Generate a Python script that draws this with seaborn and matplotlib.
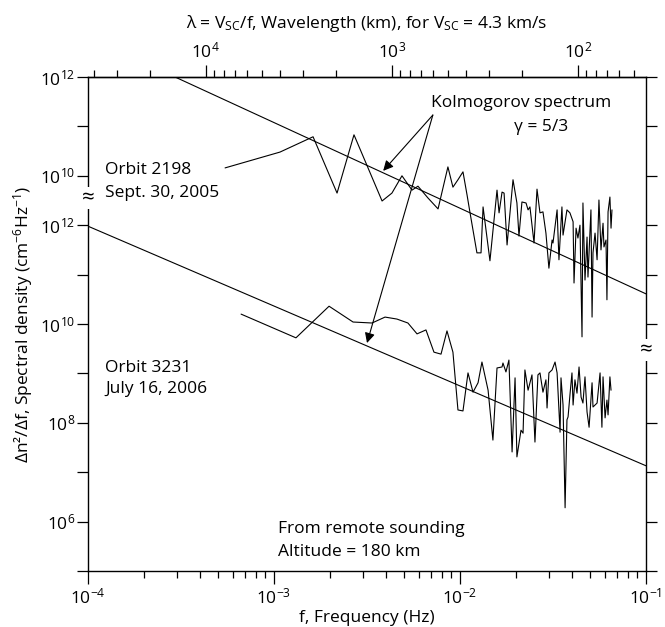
import numpy as np
import seaborn as sns
import matplotlib.pyplot as plt
from matplotlib.ticker import NullFormatter, NullLocator

# spectra, stored as log10 values
# Orbit 2198, Sept. 30, 2005 (upper panel)
logf_2198 = [-3.263, -2.968, -2.790, -2.661, -2.570, -2.419, -2.366, -2.312, -2.258, -2.226,
             -2.172, -2.118, -2.065, -2.038, -2.011, -1.984, -1.962, -1.946, -1.909, -1.887,
             -1.876, -1.839, -1.801, -1.790, -1.774, -1.763, -1.747, -1.715, -1.694, -1.683,
             -1.667, -1.645, -1.634, -1.624, -1.602, -1.586, -1.570, -1.554, -1.538, -1.522,
             -1.505, -1.500, -1.478, -1.468, -1.452, -1.446, -1.425, -1.409, -1.392, -1.387,
             -1.376, -1.366, -1.355, -1.344, -1.339, -1.328, -1.317, -1.312, -1.296, -1.290,
             -1.285, -1.274, -1.263, -1.253, -1.242, -1.231, -1.226, -1.215, -1.210, -1.204,
             -1.194, -1.188, -1.183]
logpsd_2198 = [10.16, 10.48, 10.79, 9.65, 10.83, 9.49, 9.65, 10.00, 9.71, 9.79,
               9.55, 9.33, 10.18, 9.77, 9.92, 10.08, 9.61, 9.25, 8.44, 8.44,
               9.37, 8.28, 9.71, 9.25, 9.67, 9.65, 8.60, 9.92, 9.45, 8.78,
               9.47, 9.45, 9.31, 9.37, 8.64, 9.73, 9.25, 9.27, 8.84, 8.13,
               8.70, 8.64, 9.31, 8.30, 9.37, 8.80, 9.31, 9.25, 9.07, 7.83,
               8.94, 8.74, 9.00, 6.74, 9.45, 7.89, 8.76, 7.95, 9.31, 7.14,
               8.44, 8.84, 8.30, 9.51, 8.50, 9.04, 8.56, 8.70, 7.49, 9.27,
               9.57, 8.94, 9.31]

# Orbit 3231, July 16, 2006 (lower panel)
logf_3231 = [-3.177, -2.882, -2.704, -2.575, -2.473, -2.403, -2.339, -2.280, -2.231, -2.183,
             -2.140, -2.102, -2.070, -2.038, -2.011, -1.984, -1.957, -1.930, -1.903, -1.882,
             -1.849, -1.823, -1.801, -1.774, -1.769, -1.753, -1.737, -1.720, -1.704, -1.694,
             -1.672, -1.661, -1.651, -1.634, -1.613, -1.597, -1.581, -1.570, -1.554, -1.538,
             -1.532, -1.522, -1.505, -1.489, -1.478, -1.462, -1.457, -1.446, -1.435, -1.425,
             -1.419, -1.409, -1.398, -1.392, -1.382, -1.371, -1.360, -1.349, -1.339, -1.328,
             -1.317, -1.306, -1.290, -1.285, -1.263, -1.247, -1.237, -1.231, -1.220, -1.210,
             -1.204, -1.194, -1.188]
logpsd_3231 = [10.20, 9.72, 10.36, 10.04, 10.02, 10.14, 10.10, 10.02, 9.80, 9.88,
               9.43, 9.39, 9.86, 9.43, 8.26, 8.24, 9.01, 8.62, 8.81, 9.23,
               8.66, 7.65, 9.11, 9.13, 9.21, 9.03, 9.27, 7.41, 8.91, 7.31,
               7.85, 7.79, 9.07, 8.66, 8.97, 7.61, 8.97, 9.01, 8.62, 8.87,
               8.30, 9.01, 9.07, 9.23, 9.01, 7.81, 8.91, 8.36, 6.28, 8.06,
               8.12, 8.56, 9.01, 8.36, 8.87, 8.60, 9.13, 8.52, 8.40, 8.93,
               8.22, 7.91, 8.81, 8.32, 8.40, 9.01, 7.91, 8.93, 8.10, 8.46,
               8.16, 8.93, 8.66]

# Kolmogorov (gamma = 5/3) reference lines, end points
kolm_logf_2198 = [-3.532, -1.0]
kolm_logpsd_2198 = [12.0, 7.61]
kolm_logf_3231 = [-4.0, -1.0]
kolm_logpsd_3231 = [11.98, 7.13]

UPPER_SHIFT = 1e3   # upper panel drawn 3 decades up (broken axis)
V_SC = 4.3          # km/s

sns.set_theme(style='ticks')
plt.rcParams['font.family'] = ['Open Sans', 'DejaVu Sans']
plt.rcParams['mathtext.fontset'] = 'custom'
plt.rcParams['mathtext.rm'] = 'Open Sans'
plt.rcParams['mathtext.it'] = 'Open Sans:italic'
plt.rcParams['text.color'] = 'black'
plt.rcParams['axes.labelcolor'] = 'black'
plt.rcParams['xtick.color'] = 'black'
plt.rcParams['ytick.color'] = 'black'
FS = 12.5

fig = plt.figure(figsize=(6.65, 6.27), dpi=100)
ax = fig.add_axes([88 / 665, 1 - 571 / 627, 558 / 665, 494 / 627])

lw = 0.8
sns.lineplot(x=10 ** np.array(logf_2198), y=10 ** np.array(logpsd_2198) * UPPER_SHIFT,
             ax=ax, color='black', lw=lw, estimator=None, sort=False)
sns.lineplot(x=10 ** np.array(logf_3231), y=10 ** np.array(logpsd_3231),
             ax=ax, color='black', lw=lw, estimator=None, sort=False)
sns.lineplot(x=10 ** np.array(kolm_logf_2198), y=10 ** np.array(kolm_logpsd_2198) * UPPER_SHIFT,
             ax=ax, color='black', lw=lw, estimator=None, sort=False)
sns.lineplot(x=10 ** np.array(kolm_logf_3231), y=10 ** np.array(kolm_logpsd_3231),
             ax=ax, color='black', lw=lw, estimator=None, sort=False)

ax.set_xscale('log')
ax.set_yscale('log')
ax.set_xlim(1e-4, 1e-1)
ax.set_ylim(1e5, 1e15)

# y ticks: lower panel true values, upper panel shifted
yt = [1e5, 1e6, 1e7, 1e8, 1e9, 1e10, 1e11, 1e12, 1e13, 1e14, 1e15]
ylab = ['', '$10^6$', '', '$10^8$', '', '$10^{10}$', '', '$10^{12}$', '$10^{10}$', '', '$10^{12}$']
ax.set_yticks(yt, ylab)
ax.yaxis.set_minor_locator(NullLocator())
ax.xaxis.set_minor_formatter(NullFormatter())
ax.tick_params(axis='y', which='major', direction='out', length=8, width=0.9,
               right=True, labelsize=FS, pad=1)
ax.tick_params(axis='x', which='major', direction='out', length=9, width=0.9, labelsize=FS, pad=3)
ax.tick_params(axis='x', which='minor', direction='out', length=5, width=0.9)
for s in ax.spines.values():
    s.set_linewidth(1.0)
    s.set_color('black')

# top axis: wavelength
sec = ax.secondary_xaxis('top', functions=(lambda f: V_SC / f, lambda l: V_SC / l))
sec.set_xticks([1e4, 1e3, 1e2], ['$10^4$', '$10^3$', '$10^2$'])
lam_minor = [m * d for d in (1e1, 1e2, 1e3, 1e4) for m in range(2, 10) if 43 < m * d < 43000]
sec.set_xticks(lam_minor, minor=True)
sec.xaxis.set_minor_formatter(NullFormatter())
sec.tick_params(axis='x', which='major', direction='out', length=9, width=0.9, labelsize=FS, pad=2)
sec.tick_params(axis='x', which='minor', direction='out', length=5, width=0.9)
sec.spines['top'].set_linewidth(1.0)
sec.set_xlabel('λ = V$_\\mathrm{SC}$/f, Wavelength (km), for V$_\\mathrm{SC}$ = 4.3 km/s',
               fontsize=FS, labelpad=10)

ax.set_xlabel('f, Frequency (Hz)', fontsize=FS, labelpad=2)
ax.set_ylabel('Δn²/Δf, Spectral density (cm$^{-6}$Hz$^{-1}$)', fontsize=FS, labelpad=4)

# axis break marks
for xb, yb in [(0, 0.755), (1, 0.447)]:
    ax.text(xb, yb, '≈', transform=ax.transAxes, ha='center', va='center', fontsize=16,
            bbox=dict(fc='white', ec='none', pad=0.5), clip_on=False, zorder=5)

txt = dict(transform=ax.transAxes, fontsize=FS, va='baseline')
ax.text(0.0305, 0.8036, 'Orbit 2198', **txt)
ax.text(0.0305, 0.757, 'Sept. 30, 2005', **txt)
ax.text(0.0305, 0.4028, 'Orbit 3231', **txt)
ax.text(0.0305, 0.3603, 'July 16, 2006', **txt)
ax.text(0.3405, 0.0769, 'From remote sounding', **txt)
ax.text(0.3405, 0.0304, 'Altitude = 180 km', **txt)
ax.text(0.776, 0.939, 'Kolmogorov spectrum', ha='center', **txt)
ax.text(0.812, 0.891, 'γ = 5/3', ha='center', **txt)

arrow = dict(arrowstyle='-|>', color='black', lw=0.8, mutation_scale=15, shrinkA=0, shrinkB=0)
ax.annotate('', xy=(0.529, 0.810), xytext=(0.618, 0.923), xycoords='axes fraction',
            arrowprops=arrow)
ax.annotate('', xy=(0.500, 0.4615), xytext=(0.618, 0.923), xycoords='axes fraction',
            arrowprops=arrow)

fig.savefig('out.png', dpi=100)
